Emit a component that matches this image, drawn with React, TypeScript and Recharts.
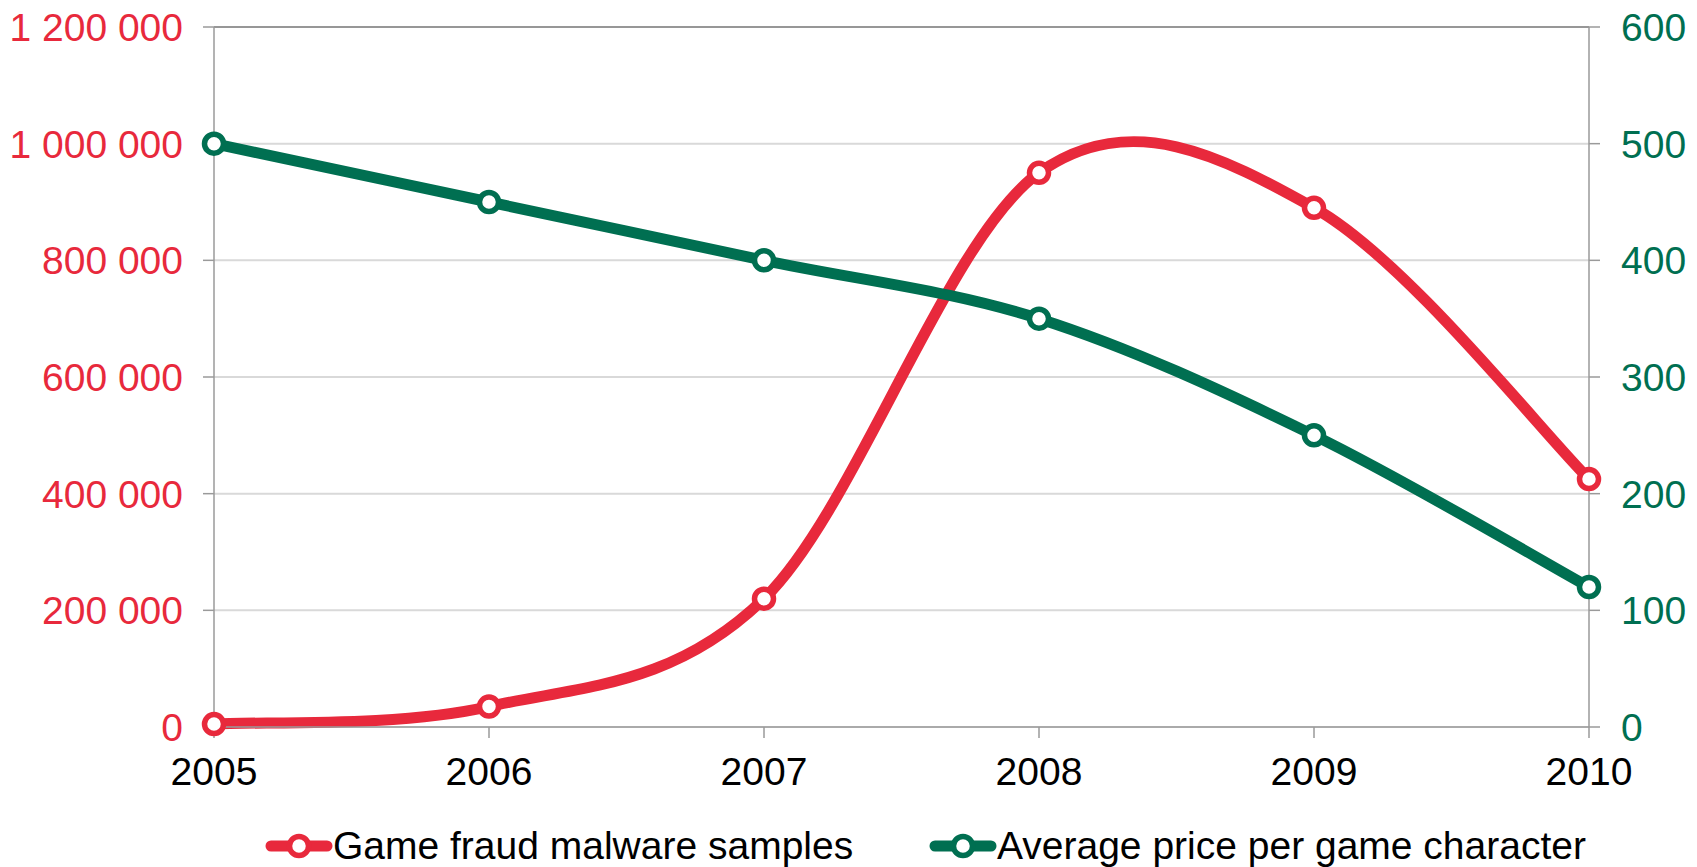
import React from 'react';
import {
  LineChart,
  Line,
  XAxis,
  YAxis,
  CartesianGrid,
  Legend,
  ReferenceLine,
} from 'recharts';

// Données
const years = ['2005', '2006', '2007', '2008', '2009', '2010'];
const malwareSamples = [5000, 35000, 220000, 950000, 890000, 425000];
const avgPrice = [500, 450, 400, 350, 250, 120];
const leftTicks = [0, 200000, 400000, 600000, 800000, 1000000, 1200000];
const rightTicks = [0, 100, 200, 300, 400, 500, 600];

const RED = '#E8293C';
const GREEN = '#006F51';
const AXIS = '#9A9A9A';
const FONT = '"Liberation Sans", Arial, sans-serif';
const FS = 39;

// lissage façon Excel (Catmull-Rom -> Bézier)
const excelSmooth = (context: any) => {
  let xs: number[] = [];
  let ys: number[] = [];
  return {
    areaStart() {},
    areaEnd() {},
    lineStart() {
      xs = [];
      ys = [];
    },
    point(x: number, y: number) {
      xs.push(+x);
      ys.push(+y);
    },
    lineEnd() {
      const n = xs.length;
      if (!n) return;
      context.moveTo(xs[0], ys[0]);
      for (let i = 0; i < n - 1; i++) {
        const i0 = Math.max(i - 1, 0);
        const i3 = Math.min(i + 2, n - 1);
        context.bezierCurveTo(
          xs[i] + (xs[i + 1] - xs[i0]) / 6,
          ys[i] + (ys[i + 1] - ys[i0]) / 6,
          xs[i + 1] - (xs[i3] - xs[i]) / 6,
          ys[i + 1] - (ys[i3] - ys[i]) / 6,
          xs[i + 1],
          ys[i + 1]
        );
      }
    },
  };
};

const formatSpaces = (v: number) =>
  String(v).replace(/\B(?=(\d{3})+(?!\d))/g, ' ');

const LegendIcon = ({ color }: { color: string }) => (
  <svg width={68} height={28} style={{ display: 'block' }}>
    <line x1={6} y1={14} x2={62} y2={14} stroke={color} strokeWidth={11} strokeLinecap="round" />
    <circle cx={34} cy={14} r={9.5} fill="#fff" stroke={color} strokeWidth={5.5} />
  </svg>
);

const renderLegend = () => {
  const items = [
    { label: 'Game fraud malware samples', color: RED, left: 265 },
    { label: 'Average price per game character', color: GREEN, left: 929 },
  ];
  return (
    <div style={{ position: 'relative', height: 50, width: 1697 }}>
      {items.map((it) => (
        <div
          key={it.label}
          style={{
            position: 'absolute',
            left: it.left,
            top: 0,
            height: 58,
            display: 'flex',
            alignItems: 'center',
            fontFamily: FONT,
            fontSize: FS,
            color: '#000',
            whiteSpace: 'nowrap',
          }}
        >
          <LegendIcon color={it.color} />
          <span>{it.label}</span>
        </div>
      ))}
    </div>
  );
};

export default function App() {
  const data = years.map((y, i) => ({
    year: y,
    malware: malwareSamples[i],
    price: avgPrice[i],
  }));

  return (
    <div style={{ position: 'absolute', left: 0, top: 0, background: '#fff' }}>
      <LineChart
        width={1697}
        height={867}
        data={data}
        margin={{ top: 27, right: 0, left: 0, bottom: 0 }}
        style={{ fontFamily: FONT }}
      >
        <CartesianGrid
          yAxisId="left"
          vertical={false}
          stroke="#D9D9D9"
          strokeWidth={2}
        />
        <XAxis
          dataKey="year"
          height={90}
          stroke={AXIS}
          strokeWidth={1.5}
          tickSize={11}
          tickMargin={19}
          tick={{ fill: '#000', fontSize: FS }}
          interval={0}
        />
        <YAxis
          yAxisId="left"
          width={214}
          domain={[0, 1200000]}
          ticks={leftTicks}
          tickFormatter={formatSpaces}
          stroke={AXIS}
          strokeWidth={1.5}
          tickSize={11}
          tickMargin={20}
          tick={{ fill: RED, fontSize: FS }}
          interval={0}
        />
        <YAxis
          yAxisId="right"
          orientation="right"
          width={108}
          domain={[0, 600]}
          ticks={rightTicks}
          stroke={AXIS}
          strokeWidth={1.5}
          tickSize={11}
          tickMargin={21}
          tick={{ fill: GREEN, fontSize: FS }}
          interval={0}
        />
        <ReferenceLine yAxisId="left" y={1200000} stroke="#808080" strokeWidth={1.5} />
        <Legend verticalAlign="bottom" height={50} content={renderLegend} wrapperStyle={{ left: 0, width: 1697 }} />
        <Line
          yAxisId="left"
          dataKey="malware"
          name="Game fraud malware samples"
          type={excelSmooth as any}
          stroke={RED}
          strokeWidth={11}
          dot={{ r: 9.5, fill: '#fff', stroke: RED, strokeWidth: 5.5 }}
          activeDot={false}
          isAnimationActive={false}
        />
        <Line
          yAxisId="right"
          dataKey="price"
          name="Average price per game character"
          type={excelSmooth as any}
          stroke={GREEN}
          strokeWidth={11}
          dot={{ r: 9.5, fill: '#fff', stroke: GREEN, strokeWidth: 5.5 }}
          activeDot={false}
          isAnimationActive={false}
        />
      </LineChart>
    </div>
  );
}
